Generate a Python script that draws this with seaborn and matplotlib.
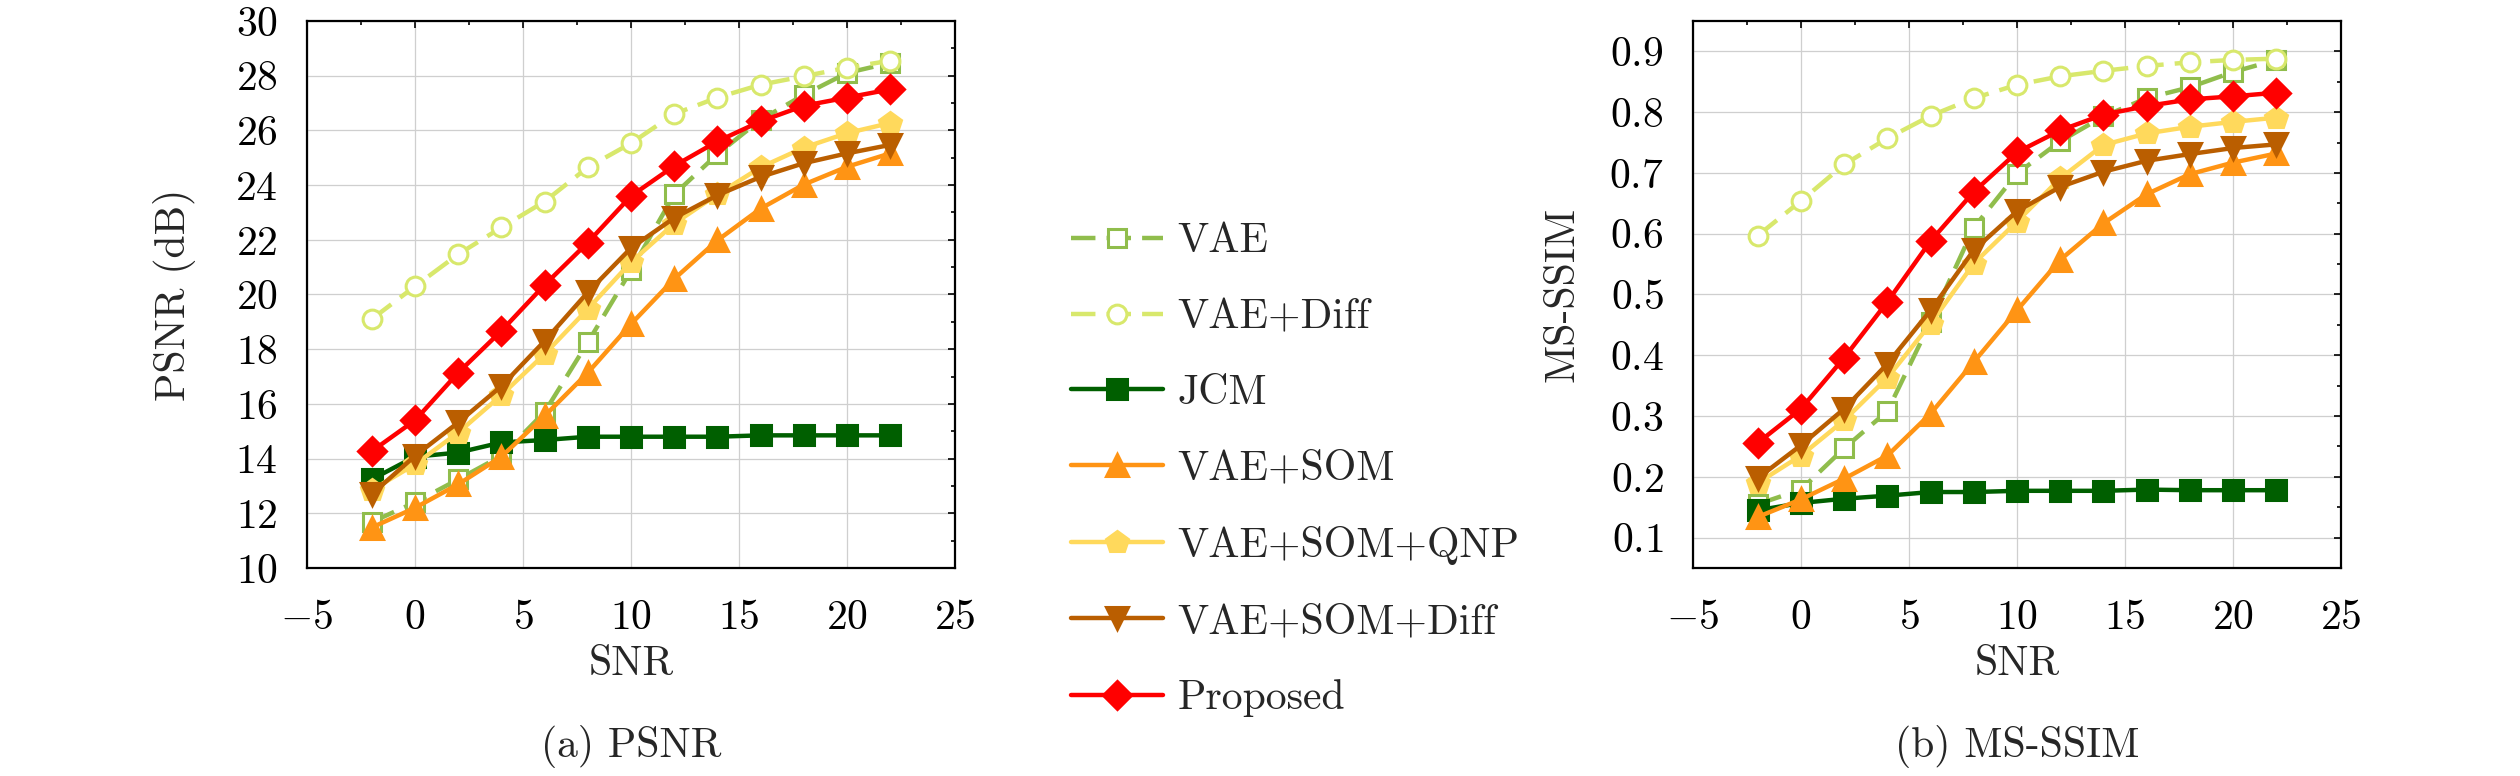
"""
PSNR / MS-SSIM vs SNR comparison (two panels + shared legend in the middle)
"""

import numpy as np
import pandas as pd
import matplotlib
matplotlib.use("Agg")
import matplotlib.pyplot as plt
import matplotlib.ticker as mticker
import seaborn as sns

# ── Data ──────────────────────────────────────────────────────
snr = [-2, 0, 2, 4, 6, 8, 10, 12, 14, 16, 18, 20, 22]
methods = ["VAE", "VAE+Diff", "JCM", "VAE+SOM", "VAE+SOM+QNP", "VAE+SOM+Diff", "Proposed"]

psnr_vae      = [11.68, 12.40, 13.24, 14.10, 15.70, 18.25, 20.88, 23.66, 25.13, 26.39, 27.30, 28.10, 28.47]
psnr_vae_diff = [19.10, 20.30, 21.47, 22.45, 23.40, 24.65, 25.53, 26.60, 27.20, 27.67, 27.98, 28.29, 28.55]
psnr_jcm      = [13.24, 14.07, 14.22, 14.59, 14.68, 14.80, 14.80, 14.80, 14.80, 14.85, 14.85, 14.85, 14.85]
psnr_som      = [11.48, 12.20, 13.06, 14.07, 15.56, 17.14, 18.92, 20.57, 21.98, 23.14, 24.02, 24.67, 25.16]
psnr_som_qnp  = [12.85, 13.79, 14.95, 16.32, 17.82, 19.47, 21.18, 22.59, 23.66, 24.65, 25.37, 25.90, 26.27]
psnr_som_diff = [12.70, 14.10, 15.32, 16.65, 18.30, 20.08, 21.70, 22.80, 23.63, 24.30, 24.80, 25.16, 25.47]
psnr_proposed = [14.27, 15.40, 17.14, 18.67, 20.35, 21.90, 23.60, 24.70, 25.60, 26.33, 26.90, 27.20, 27.50]

ssim_vae      = [0.155, 0.179, 0.247, 0.308, 0.455, 0.610, 0.699, 0.752, 0.793, 0.823, 0.841, 0.866, 0.886]
ssim_vae_diff = [0.597, 0.654, 0.714, 0.757, 0.794, 0.823, 0.845, 0.859, 0.868, 0.876, 0.882, 0.886, 0.888]
ssim_jcm      = [0.145, 0.157, 0.164, 0.169, 0.175, 0.175, 0.177, 0.177, 0.177, 0.179, 0.178, 0.178, 0.178]
ssim_som      = [0.134, 0.163, 0.197, 0.235, 0.304, 0.389, 0.474, 0.557, 0.617, 0.665, 0.698, 0.717, 0.732]
ssim_som_qnp  = [0.190, 0.235, 0.293, 0.363, 0.452, 0.551, 0.620, 0.691, 0.746, 0.765, 0.776, 0.784, 0.791]
ssim_som_diff = [0.198, 0.252, 0.312, 0.386, 0.474, 0.573, 0.637, 0.677, 0.702, 0.720, 0.731, 0.741, 0.747]
ssim_proposed = [0.256, 0.312, 0.396, 0.488, 0.588, 0.669, 0.734, 0.770, 0.796, 0.810, 0.821, 0.826, 0.832]

psnr_all = [psnr_vae, psnr_vae_diff, psnr_jcm, psnr_som, psnr_som_qnp, psnr_som_diff, psnr_proposed]
ssim_all = [ssim_vae, ssim_vae_diff, ssim_jcm, ssim_som, ssim_som_qnp, ssim_som_diff, ssim_proposed]

# ── Style ─────────────────────────────────────────────────────
COLORS  = ["#90bd4c", "#d8e86c", "#005f00", "#ff9414", "#ffd95c", "#ba5e00", "#ff0000"]
MARKERS = ["s", "o", "s", "^", "p", "v", "D"]
MSIZE   = [13, 13.5, 14, 16, 16, 16, 14]
HOLLOW  = [True, True, False, False, False, False, False]
DASHED  = [True, True, False, False, False, False, False]

sns.set_style("white")
plt.rcParams.update({
    "font.family": "serif",
    "font.serif": ["cmr10", "DejaVu Serif"],
    "mathtext.fontset": "cm",
    "axes.formatter.use_mathtext": True,
    "font.size": 30,
})

W, H = 2520, 776
fig = plt.figure(figsize=(W / 100, H / 100), dpi=100)
TOP, BOT = 21, 568
ax_w = 648 / W
ax_h = (BOT - TOP) / H
ax1 = fig.add_axes([307 / W, 1 - BOT / H, ax_w, ax_h])
ax2 = fig.add_axes([1693 / W, 1 - BOT / H, ax_w, ax_h])


def draw(ax, series):
    for i, vals in enumerate(series):
        df = pd.DataFrame({"SNR": snr, "val": vals})
        sns.lineplot(
            data=df, x="SNR", y="val", ax=ax, errorbar=None,
            color=COLORS[i], marker=MARKERS[i], markersize=MSIZE[i],
            markeredgecolor=COLORS[i], markeredgewidth=2.2,
            markerfacecolor="white" if HOLLOW[i] else COLORS[i],
            linestyle=(0, (5.5, 2.5)) if DASHED[i] else "-",
            linewidth=3.2, label=methods[i], zorder=3 + i,
        )


def style_axes(ax, ylim, ymaj, ymin, ylabel, ylab_x):
    ax.set_xlim(-5, 25)
    ax.set_ylim(*ylim)
    ax.xaxis.set_major_locator(mticker.MultipleLocator(5))
    ax.xaxis.set_minor_locator(mticker.MultipleLocator(2.5))
    ax.yaxis.set_major_locator(mticker.MultipleLocator(ymaj))
    ax.yaxis.set_minor_locator(mticker.MultipleLocator(ymin))
    ax.grid(True, which="major", color="#cfcfcf", linewidth=0.9)
    ax.set_axisbelow(True)
    ax.tick_params(which="both", direction="in", top=True, right=True, width=1.2, colors="black")
    ax.tick_params(which="major", length=5)
    ax.tick_params(which="minor", length=3)
    ax.tick_params(axis="x", which="major", pad=23, labelsize=30)
    ax.tick_params(axis="y", which="major", pad=21, labelsize=30)
    for s in ax.spines.values():
        s.set_linewidth(1.6)
        s.set_color("black")
    ax.set_xlabel("SNR", fontsize=30, va="center")
    ax.xaxis.set_label_coords(0.5, -(664 - BOT) / (BOT - TOP))
    ax.set_ylabel(ylabel, fontsize=30, va="center")
    ax.yaxis.set_label_coords(ylab_x, 0.5)
    if ax.get_legend() is not None:
        ax.get_legend().remove()


draw(ax1, psnr_all)
draw(ax2, ssim_all)
style_axes(ax1, (10, 30), 2, 1, "PSNR (dB)", -(307 - 175) / 648)
style_axes(ax2, (0.05, 0.95), 0.1, 0.05, "MS-SSIM", -(1693 - 1563) / 648)
ax2.yaxis.set_major_formatter(mticker.FormatStrFormatter("$%.1f$"))

fig.text(631 / W, 1 - 747 / H, "(a) PSNR", ha="center", va="center", fontsize=30)
fig.text(2017 / W, 1 - 747 / H, "(b) MS-SSIM", ha="center", va="center", fontsize=30)

handles, labels = ax1.get_legend_handles_labels()
fig.legend(handles, labels, loc="center left", bbox_to_anchor=(1050 / W, 1 - 470 / H),
           frameon=False, fontsize=30, borderpad=0, handlelength=2.2,
           handletextpad=0.36, labelspacing=0.92, numpoints=1)

fig.savefig("out.png", dpi=100)
